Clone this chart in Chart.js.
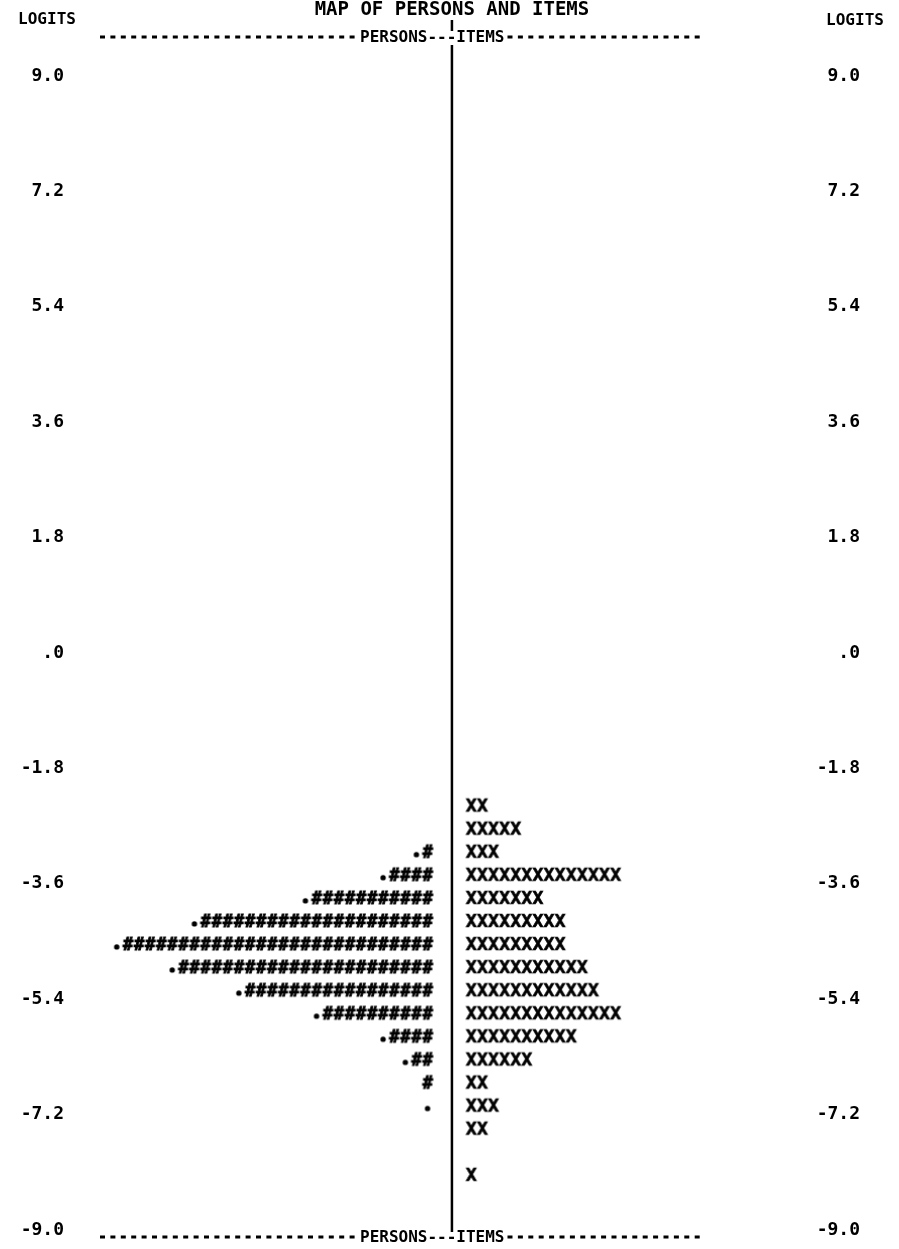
<!DOCTYPE html>
<html>
<head>
<meta charset="utf-8">
<script src="https://cdn.jsdelivr.net/npm/chart.js@4.4.1/dist/chart.umd.min.js"></script>
<style>
  html, body { margin: 0; padding: 0; background: #fff; }
  #wrap { width: 899px; height: 1249px; }
</style>
</head>
<body>
<div id="wrap"><canvas id="c" width="899" height="1249"></canvas></div>
<script>
// ---------- data ----------
const tickValues = [9.0, 7.2, 5.4, 3.6, 1.8, 0, -1.8, -3.6, -5.4, -7.2, -9.0];
const tickLabels = ['9.0', '7.2', '5.4', '3.6', '1.8', '.0', '-1.8', '-3.6', '-5.4', '-7.2', '-9.0'];

// persons: rows of '#' (plus a leading '.') at each logit level
const personLogits = [-3.24, -3.6, -3.96, -4.32, -4.68, -5.04, -5.4, -5.76, -6.12, -6.48, -6.84, -7.2];
const personHashes = [1, 4, 11, 21, 28, 23, 17, 10, 4, 2, 1, 0];
const personDots   = [1, 1, 1, 1, 1, 1, 1, 1, 1, 1, 0, 1];

// items: rows of 'X' at each logit level
const itemLogits = [-2.52, -2.88, -3.24, -3.6, -3.96, -4.32, -4.68, -5.04, -5.4, -5.76, -6.12, -6.48, -6.84, -7.2, -7.56, -8.28];
const itemCounts = [2, 5, 3, 14, 7, 9, 9, 11, 12, 14, 10, 6, 2, 3, 2, 1];

const titleText = 'MAP OF PERSONS AND ITEMS';
const axisTitle = 'LOGITS';
const sideLabels = 'PERSONS---ITEMS';

// ---------- rendering ----------
const MONO = '"DejaVu Sans Mono", "Liberation Mono", monospace';

function glyph(ch, size, stroke) {
  const c = document.createElement('canvas');
  c.width = 14; c.height = 22;
  const g = c.getContext('2d');
  g.font = 'bold ' + size + 'px ' + MONO;
  g.fillStyle = '#000';
  g.strokeStyle = '#000';
  g.textAlign = 'center';
  g.textBaseline = 'alphabetic';
  const cap = g.measureText('X').actualBoundingBoxAscent;
  const base = 11 + cap / 2;
  if (ch === '.') {
    g.beginPath();
    g.arc(7, base - 2.6, 2.7, 0, Math.PI * 2);
    g.fill();
  } else {
    g.fillText(ch, 7, base);
    if (stroke) { g.lineWidth = stroke; g.strokeText(ch, 7, base); }
  }
  return c;
}
const hashGlyph = glyph('#', 17, 0.9);
const dotGlyph = glyph('.', 17, 0);
const xGlyph = glyph('X', 18, 0.7);

const personPts = [], dotPts = [], itemPts = [];
personLogits.forEach((v, r) => {
  for (let j = 1; j <= personHashes[r]; j++) personPts.push({ x: -(j + 1.2), y: v });
  if (personDots[r]) dotPts.push({ x: -(personHashes[r] + 1 + 1.2), y: v });
});
itemLogits.forEach((v, r) => {
  for (let i = 1; i <= itemCounts[r]; i++) itemPts.push({ x: i + 0.75, y: v });
});

const tickFont = { family: MONO, size: 18, weight: 'bold' };

const decor = {
  id: 'decor',
  afterDraw(chart) {
    const ctx = chart.ctx;
    const cx = chart.scales.x.getPixelForValue(0);
    const dashLeft = 100, dashRight = chart.chartArea.right;
    ctx.save();
    ctx.fillStyle = '#000';
    ctx.strokeStyle = '#000';
    ctx.textBaseline = 'middle';
    ctx.textAlign = 'center';
    ctx.font = 'bold 19px ' + MONO;
    ctx.fillText(titleText, cx, 10);
    ctx.font = 'bold 16px ' + MONO;
    ctx.fillText(axisTitle, 47, 20);
    ctx.fillText(axisTitle, 855, 21);

    // centre divider
    ctx.lineWidth = 2.5;
    ctx.beginPath();
    ctx.moveTo(cx, 20); ctx.lineTo(cx, 31);
    ctx.moveTo(cx, 45); ctx.lineTo(cx, 1232);
    ctx.stroke();

    // dashed header / footer rows
    ctx.font = 'bold 16px ' + MONO;
    ctx.textAlign = 'left';
    const tw = ctx.measureText(sideLabels).width;
    const tx = 360;
    [37, 1237].forEach(y => {
      ctx.fillText(sideLabels, tx, y + 1);
      ctx.save();
      ctx.lineWidth = 3;
      ctx.setLineDash([5, 5.4]);
      ctx.beginPath();
      ctx.moveTo(dashLeft, y); ctx.lineTo(tx - 3, y);
      ctx.moveTo(tx + tw + 3, y); ctx.lineTo(dashRight, y);
      ctx.stroke();
      ctx.restore();
    });
    ctx.restore();
  }
};

function yAxis(position, width, padding, crossAlign) {
  return {
    type: 'linear',
    position: position,
    min: -9, max: 9,
    grid: { display: false, drawTicks: false },
    border: { display: false },
    afterBuildTicks: (s) => { s.ticks = tickValues.map(v => ({ value: v })); },
    afterFit: (s) => { s.width = width; },
    ticks: {
      font: tickFont,
      color: '#000',
      padding: padding,
      crossAlign: crossAlign,
      labelOffset: 10,
      autoSkip: false,
      callback: (value, index) => tickLabels[index]
    }
  };
}

new Chart(document.getElementById('c'), {
  type: 'scatter',
  data: {
    datasets: [
      { label: 'Persons', data: personPts, pointStyle: hashGlyph, pointRadius: 6, yAxisID: 'y' },
      { label: 'Persons (partial)', data: dotPts, pointStyle: dotGlyph, pointRadius: 6, yAxisID: 'y' },
      { label: 'Items', data: itemPts, pointStyle: xGlyph, pointRadius: 6, yAxisID: 'y' }
    ]
  },
  options: {
    responsive: false,
    animation: false,
    events: [],
    layout: { padding: { top: 66, bottom: 29, left: 0, right: 39 } },
    plugins: { legend: { display: false }, tooltip: { enabled: false }, title: { display: false } },
    scales: {
      x: { type: 'linear', display: false, min: -33.42, max: 22.8 },
      y: yAxis('left', 81, 17, 'near'),
      y2: yAxis('right', 155, 0, 'far')
    }
  },
  plugins: [decor]
});
</script>
</body>
</html>
